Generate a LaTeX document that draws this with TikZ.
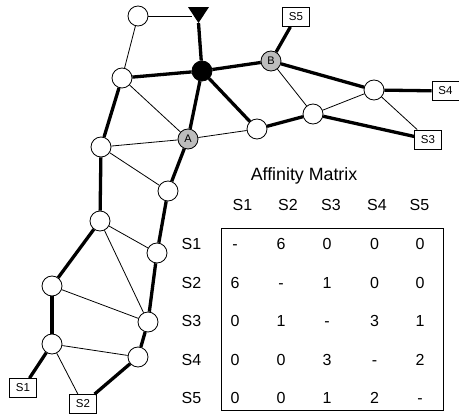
\documentclass[tikz,border=0pt]{standalone}
\usepackage{fontspec}
\setmainfont{Liberation Sans}
\definecolor{nodegray}{gray}{0.74}
\begin{document}
\begin{tikzpicture}[x=1pt,y=-1pt,
  vert/.style={circle,draw,fill=white,line width=0.8pt,minimum size=20pt,inner sep=0pt},
  hub/.style={vert,fill=black},
  lab/.style={vert,fill=nodegray,font=\fontsize{11}{11}\selectfont},
  term/.style={rectangle,draw,fill=white,line width=0.8pt,minimum width=27pt,minimum height=19pt,inner sep=0pt,font=\fontsize{11.5}{12}\selectfont},
  thk/.style={line width=3.3pt},
  thn/.style={line width=0.8pt},
  mtx/.style={font=\fontsize{16}{16}\selectfont,inner sep=0pt,text height=11.5pt,text depth=0pt},
  ttl/.style={font=\fontsize{17.8}{18}\selectfont,inner sep=0pt,text height=12.8pt,text depth=0pt}
]
\useasboundingbox (0,0) rectangle (459,415);
\fill[white] (0,0) rectangle (459,415);

% triangle marker
\coordinate (tip) at (198.5,23);
\coordinate (tL) at (191.5,16);
\fill[black] (188,7) -- (209,7) -- (tip) -- cycle;

% vertices
\node[vert] (n1) at (138,16) {};
\node[hub]  (hb) at (202,71) {};
\node[vert] (n2) at (122,78) {};
\node[lab]  (A)  at (188,139) {A};
\node[vert] (n3) at (101,147) {};
\node[vert] (n4) at (168,191) {};
\node[lab]  (B)  at (271,61) {B};
\node[vert] (n5) at (257,129) {};
\node[vert] (n6) at (313,114) {};
\node[vert] (n7) at (374,90) {};
\node[vert] (n8) at (100,221) {};
\node[vert] (n9) at (157,253) {};
\node[vert] (n10) at (52,286) {};
\node[vert] (n11) at (148,322) {};
\node[vert] (n12) at (52,344) {};
\node[vert] (n13) at (138,357) {};

% terminals
\node[term] (S5) at (296,17) {S5};
\node[term] (S4) at (445.5,91) {S4};
\node[term] (S3) at (428,139.5) {S3};
\node[term] (S1) at (23,388) {S1};
\node[term] (S2) at (83,404) {S2};

% thick connectors
\draw[thk] (tip) -- (hb);
\draw[thk] (hb) -- (n2);
\draw[thk] (hb) -- (A);
\draw[thk] (hb) -- (B);
\draw[thk] (hb) -- (n5);
\draw[thk] (B) -- (S5);
\draw[thk] (B) -- (n7);
\draw[thk] (n7) -- (S4);
\draw[thk] (n5) -- (n6);
\draw[thk] (n6) -- (S3);
\draw[thk] (n2) -- (n3);
\draw[thk] (A) -- (n4);
\draw[thk] (n4) -- (n9);
\draw[thk] (n3) -- (n8);
\draw[thk] (n8) -- (n10);
\draw[thk] (n9) -- (n11);
\draw[thk] (n10) -- (n12);
\draw[thk] (n11) -- (n13);
\draw[thk] (n12) -- (S1);
\draw[thk] (n13) -- (S2);

% thin connectors
\draw[thn] (n1) -- (tL);
\draw[thn] (n1) -- (n2);
\draw[thn] (n2) -- (A);
\draw[thn] (n3) -- (A);
\draw[thn] (A) -- (n5);
\draw[thn] (n3) -- (n4);
\draw[thn] (B) -- (n6);
\draw[thn] (n6) -- (n7);
\draw[thn] (n7) -- (S3);
\draw[thn] (n8) -- (n9);
\draw[thn] (n8) -- (n11);
\draw[thn] (n10) -- (n11);
\draw[thn] (n12) -- (n13);
\draw[thn] (n12) -- (S2);

% affinity matrix
\node[ttl] (title) at (304,174.5) {Affinity Matrix};
\node[draw,line width=0.8pt,minimum width=222pt,minimum height=182pt,inner sep=0pt] (mbox) at (332,319) {};
\foreach \h/\x in {1/242.5,2/288,3/331,4/377,5/419.5}
  \node[mtx] (h\h) at (\x,205) {S\h};
\foreach \r in {1,...,5}
  \node[mtx] (r\r) at (191.5,{244+38.5*(\r-1)}) {S\r};
\foreach \vals [count=\r] in {{-,6,0,0,0},{6,-,1,0,0},{0,1,-,3,1},{0,0,3,-,2},{0,0,1,2,-}} {
  \foreach \v [count=\c] in \vals {
    \pgfmathsetmacro\cx{{235,281,327,374.5,420}[\c-1]}
    \node[mtx] (c\r\c) at (\cx,{244+38.5*(\r-1)}) {\v};
  }
}
\end{tikzpicture}
\end{document}
